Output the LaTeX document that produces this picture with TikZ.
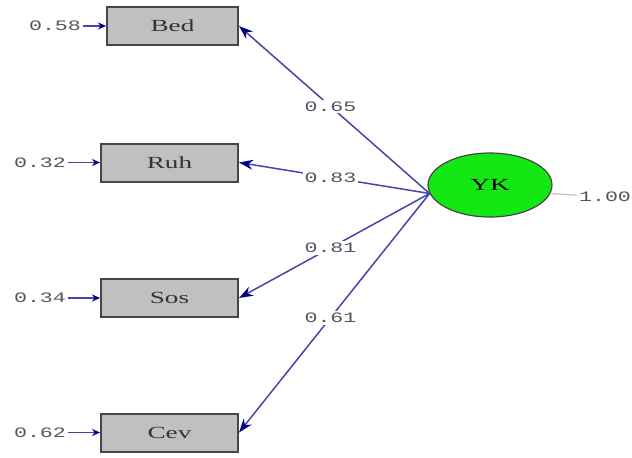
\documentclass[tikz,border=0pt]{standalone}
\usepackage{fontspec}
\usetikzlibrary{arrows.meta,shapes.geometric}
\newfontfamily\varfont[FakeStretch=1.6]{Liberation Serif}
\newfontfamily\numfont[FakeStretch=1.5]{Liberation Mono}
\definecolor{pathblue}{RGB}{70,70,170}
\definecolor{tipblue}{RGB}{0,0,130}
\definecolor{boxgray}{RGB}{192,192,192}
\definecolor{edgegray}{RGB}{70,70,70}
\definecolor{ykgreen}{RGB}{20,232,20}
\definecolor{numgray}{RGB}{85,85,95}
\tikzset{
	obs/.style={draw=edgegray,fill=boxgray,line width=1pt,minimum width=68.5pt,minimum height=19pt,
		font=\varfont\fontsize{8.5}{9}\selectfont,text=black!80},
	lat/.style={ellipse,draw=edgegray,fill=ykgreen,line width=0.6pt,minimum width=62pt,minimum height=32pt,
		font=\varfont\fontsize{8.5}{9}\selectfont},
	num/.style={font=\numfont\fontsize{7.2}{8}\selectfont,text=numgray,inner sep=1pt},
	load/.style={draw=pathblue,line width=0.75pt,-{Stealth[length=7pt,width=5pt,color=tipblue]}},
	err/.style={draw=pathblue,line width=0.75pt,-{Stealth[length=4pt,width=3.5pt,color=tipblue]}},
	loadlbl/.style={num,pos=0.52,fill=white}
}
\begin{document}
\begin{tikzpicture}[x=0.5pt,y=-0.5pt]
	\useasboundingbox (0,0) rectangle (632,457);
	% observed variables
	\node[obs,minimum width=65.5pt] (Bed) at (172.5,26) {Bed};
	\node[obs] (Ruh) at (169.5,162.5) {Ruh};
	\node[obs] (Sos) at (169.5,298) {Sos};
	\node[obs] (Cev) at (169.5,432.5) {Cev};
	% latent variable
	\node[lat] (YK) at (490,185) {YK};
	% error variances
	\node[num] (eBed) at (55,26) {0.58};
	\node[num] (eRuh) at (40,162.5) {0.32};
	\node[num] (eSos) at (40,298) {0.34};
	\node[num] (eCev) at (40,432.5) {0.62};
	\node[num] (vYK) at (605,197) {1.00};
	\path
	(YK.188) edge[load] node[loadlbl] {0.65} (Bed.east)
	(YK.188) edge[load] node[loadlbl] {0.83} (Ruh.east)
	(YK.188) edge[load] node[loadlbl] {0.81} (Sos.east)
	(YK.188) edge[load] node[loadlbl] {0.61} (Cev.east);
	\path
	(eBed) edge[err] (Bed.west)
	(eRuh) edge[err] (Ruh.west)
	(eSos) edge[err] (Sos.west)
	(eCev) edge[err] (Cev.west);
	\draw[black!25,line width=0.6pt] (YK.-8) -- (vYK);
\end{tikzpicture}
\end{document}
